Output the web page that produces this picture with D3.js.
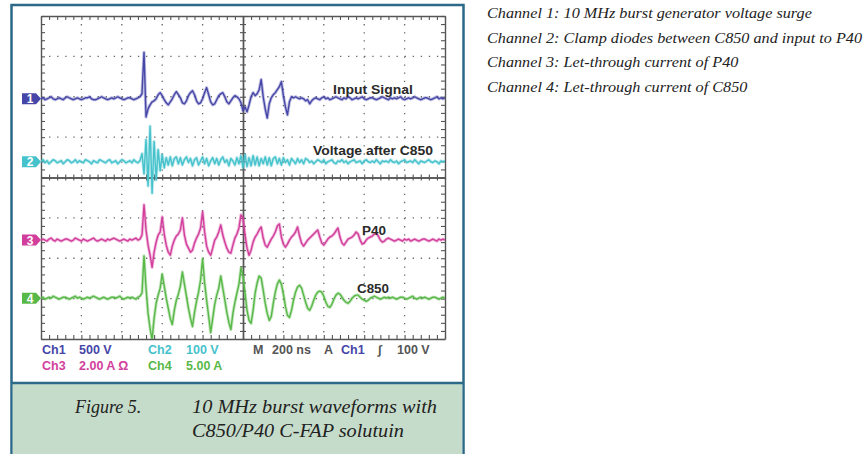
<!DOCTYPE html>
<html lang="en">
<head>
<meta charset="utf-8">
<title>10 MHz burst waveforms</title>
<script src="https://cdn.jsdelivr.net/npm/d3@7"></script>
<style>
  body { margin: 0; background: #fff; }
  svg text { font-family: "Liberation Sans", Arial, sans-serif; }
</style>
</head>
<body>
<script>
// scope settings
var timePerDiv = 200;      // ns
var timeStep = 10;         // ns between samples
var channelNames = ["Ch1", "Ch2", "Ch3", "Ch4"];
var channelScale = [500, 100, 2, 5];          // units per division
var channelUnits = ["V", "V", "A", "A"];
var channelOffset = [1.95, 0.39, -1.55, -2.99]; // marker level, divisions
var traceLabels = ["Input Signal", "Voltage after C850", "P40", "C850"];
var notes = [
  "Channel 1: 10 MHz burst generator voltage surge",
  "Channel 2: Clamp diodes between C850 and input to P40",
  "Channel 3: Let-through current of P40",
  "Channel 4: Let-through current of C850"
];

// Ch1 voltage (V), one sample every 10 ns
var ch1 = [0,12,-12,0,12,25,0,-12,0,12, 0,-12,12,25,12,0,-12,0,12,0, -12,0,12,12,25,0,-12,-12,0,12, 25,12,0,-12,0,12,0,12,25,12, 0,-12,0,12,12,0,-12,0,12,25,
  62,575,-225,-125,-75,-38,-25,0,50,75, 38,-12,-50,-75,-38,0,50,88,50,12, -50,-62,-25,38,75,100,50,-25,-62,-50,
  0,75,138,50,-38,-75,-62,-12,38,62, 75,25,-38,-62,-25,12,38,25,0,-50, -150,-100,-162,-75,25,75,38,62,112,238,
  25,-125,-238,-62,12,50,75,112,150,212, 38,-100,-200,-38,25,12,25,12,0,12, 0,-25,-12,-62,-25,0,
  12,0,-12,12,25,0,12,-12,0,12, 25,12,0,-12,12,0,25,12,-12,0, 12,0,12,25,0,-12,0,12,12,0, -12,0,12,25,12,0,-12,12,0,12,
  0,12,25,0,-12,0,12,0,12,25, 12,0,-12,0,12,12,0,-12,0,12, 25,0,12,0,12];

// Ch2 voltage (V)
var ch2 = [0,5,-2.5,2.5,-5,0,5,2.5,-2.5,0, 2.5,-5,0,5,2.5,-2.5,0,5,-2.5,2.5, 0,-2.5,5,2.5,0,-5,2.5,0,-2.5,5, 2.5,0,-2.5,2.5,5,-2.5,0,2.5,-5,0, 5,2.5,-2.5,0,2.5,-2.5,5,0,-2.5,2.5,
  20,-30,55,-60,88,-78,50,-45,30,-22, 18,-15,10,-8,12,-10,8,12,-5,10, -8,5,12,-2,8,-10,5,10,-8,2,
  12,-5,8,-10,2,10,-5,8,-8,5, 12,-2,5,-10,8,2,-8,10,-5,15, -15,18,-12,10,-10,15,-8,12,-10,8,
  -5,12,-8,10,-10,8,12,-5,8,-8, 10,-2,5,-8,8,2,-5,8,-2,5, -5,8,
  5,-2,2,-5,0,5,2,-2,5,-5, 0,2,5,-2,-5,2,0,5,-2,2, -5,0,2,5,-2,0,2,-5,2,5, 0,-2,2,-2,5,0,-5,2,0,2,
  -2,5,0,-2,2,-5,0,2,5,-2, 0,2,-2,5,0,-5,2,0,-2,2, 5,0,-2,2,0,-5,2,0,2];

// Ch3 current (A)
var ch3 = [0,0.05,0,-0.05,0.05,0.1,0,-0.05,0.05,0, -0.05,0,0.05,0.05,0,-0.05,0,0.1,0.05,0, -0.05,0.05,0,-0.05,0,0.05,0.1,0,-0.05,0, 0.05,0,-0.05,0.05,0,0.05,0.1,0.05,0,-0.05, 0,0.05,0,-0.05,0.05,0,0.05,0.1,0,0.05,
  0.25,1.75,0.5,-0.25,-0.75,-1.35,-0.6,-0.1,0.25,0.4, 1.15,0.3,-0.25,-0.6,-0.75,-0.3,0,0.2,0.3,0.5,
  1.1,0.25,-0.2,-0.4,-0.6,-0.5,-0.15,0.1,0.3,0.6, 1.4,0.4,-0.3,-0.6,-0.75,-0.4,0,0.15,0.4,0.75,
  0.25,-0.1,-0.4,-0.6,-0.65,-0.25,0.1,0.3,0.6,1.25, 1.1,0.25,-0.4,-0.75,-0.5,-0.1,0.15,0.3,0.5,0.65,
  0.1,-0.25,-0.35,-0.15,0.05,0.2,0.4,0.7,0.8,0.15, -0.2,-0.35,-0.2,0,0.15,0.25,0.4,0.65,0.2,-0.15,
  -0.3,-0.15,0,0.1,0.2,0.3,0.4,0.5,0.15,-0.15, -0.25,-0.1,0.05,0.15,0.2,0.3,0.45,0.6,0.15,-0.15,
  -0.25,-0.1,0.05,0.1,0.15,0.25,0.4,0.3,0,-0.2, -0.15,0,0.1,0.15,0.2,0.3,0.35,0.2,0,-0.1,
  -0.05,0.05,0.1,0.05,
  0,-0.05,0,0.05,0,-0.05,0.05,0,0.05,-0.05, 0,0.05,0,-0.05,0,0.05,0.05,0,-0.05,0, 0.05,0,-0.05,0.05,0,0.05,0];

// Ch4 current (A)
var ch4 = [0,0.12,-0.12,0,0.12,0,0.25,0.12,0,-0.12, 0,0.12,0.12,0,-0.12,0,0.12,0.25,0,0.12, 0,-0.12,0,0.12,0,0.12,0.25,0.12,0,-0.12, 0,0.12,0,-0.12,0,0.12,0.12,0,0.12,0.25, 0,-0.12,0,0.12,0,0.12,0,-0.12,0.12,0.25,
  0.62,5.25,1.25,-1.88,-3.75,-5.12,-2.5,-0.62,0.38,1.25, 3,1.5,0,-1.25,-2.5,-3.25,-1.5,-0.25,0.5,1.5,
  3.25,1.75,0.25,-1.25,-2.5,-3.5,-1.75,-0.38,0.75,2.25, 4.88,1.88,-0.25,-2.25,-4.25,-2.5,-0.75,0.38,1.25,2.75,
  1.25,-0.25,-1.75,-3,-3.88,-1.88,-0.5,0.62,1.75,3.75, 2.75,0.62,-1.5,-2.75,-3.12,-1.5,0.62,1.88,2.75,2.5,
  1,-0.62,-1.88,-2.75,-2.25,-0.62,0.75,1.75,2.25,1.75, 0.5,-1,-2.12,-2.38,-1.5,-0.25,0.75,1.38,1.62,1.25,
  0.38,-0.5,-1.25,-1.5,-1,-0.25,0.38,0.75,0.88,0.75, 0.25,-0.5,-1,-1.12,-0.75,-0.12,0.38,0.62,0.5,0.12,
  -0.25,-0.5,-0.62,-0.38,0,0.25,0.38,0.38,0.12,-0.12, -0.25,-0.38,-0.25,0,0.12,0.25,0.12,0,-0.12,0,
  0.12,0,0.12,0,
  0.12,0,-0.12,0,0.12,0.12,0,-0.12,0,0.12, 0.25,0,-0.12,0,0.12,0,0.12,0,-0.12,0, 0.12,0.12,0,-0.12,0,0.12,0];

var series = [ch1, ch2, ch3, ch4];
var colors = ["#4646a8", "#46c2cc", "#d23e9c", "#58b848"];

var W = 864, H = 454;
var gx0 = 41, gx1 = 445, gy0 = 16, gy1 = 339;

var svg = d3.select("body").append("svg").attr("width", W).attr("height", H);

// frame and caption panel
svg.append("rect").attr("x", 11.5).attr("y", 5).attr("width", 452).attr("height", 460)
  .attr("fill", "#fff").attr("stroke", "#2c6888").attr("stroke-width", 2.5);
svg.append("rect").attr("x", 12.75).attr("y", 383).attr("width", 449.5).attr("height", 80)
  .attr("fill", "#c6dcca");
svg.append("line").attr("x1", 11.5).attr("x2", 463.5).attr("y1", 383).attr("y2", 383)
  .attr("stroke", "#2c6888").attr("stroke-width", 2.5);

var x = d3.scaleLinear().domain([0, 10 * timePerDiv]).range([gx0, gx1]);
var y = d3.scaleLinear().domain([-4, 4]).range([gy1, gy0]);

// dotted graticule
var grid = svg.append("g").attr("stroke", "#666").attr("stroke-width", 1.3)
  .attr("stroke-dasharray", "1.3,6.78");
d3.range(1, 10).filter(function(k) { return k != 5; }).forEach(function(k) {
  grid.append("line").attr("x1", x(k * timePerDiv)).attr("x2", x(k * timePerDiv))
    .attr("y1", gy0 + 8.08).attr("y2", gy1);
});
d3.range(-3, 4).filter(function(k) { return k != 0; }).forEach(function(k) {
  grid.append("line").attr("y1", y(k)).attr("y2", y(k))
    .attr("x1", gx0 + 8.08).attr("x2", gx1);
});

// minor ticks via axes
var tx = d3.range(0, 2001, 40);
var ty = d3.range(-4, 4.01, 0.2);
function tickAxis(a, tr) {
  var g = svg.append("g").attr("transform", tr).call(a);
  g.selectAll("text").remove();
  g.selectAll("line").attr("stroke", "#555").attr("stroke-width", 1.1);
  g.select(".domain").attr("stroke", "#555").attr("stroke-width", 1.4);
  return g;
}
tickAxis(d3.axisBottom(x).tickValues(tx).tickSize(4).tickSizeOuter(0), "translate(0," + gy0 + ")");
tickAxis(d3.axisTop(x).tickValues(tx).tickSize(4).tickSizeOuter(0), "translate(0," + gy1 + ")");
tickAxis(d3.axisRight(y).tickValues(ty).tickSize(4).tickSizeOuter(0), "translate(" + gx0 + ",0)");
tickAxis(d3.axisLeft(y).tickValues(ty).tickSize(4).tickSizeOuter(0), "translate(" + gx1 + ",0)");
// centre cross
var cy = y(0), cx = x(5 * timePerDiv);
tickAxis(d3.axisBottom(x).tickValues(tx).tickSize(3).tickSizeOuter(0), "translate(0," + cy + ")");
tickAxis(d3.axisTop(x).tickValues(tx).tickSize(3).tickSizeOuter(0), "translate(0," + cy + ")");
tickAxis(d3.axisRight(y).tickValues(ty).tickSize(3).tickSizeOuter(0), "translate(" + cx + ",0)");
tickAxis(d3.axisLeft(y).tickValues(ty).tickSize(3).tickSizeOuter(0), "translate(" + cx + ",0)");

// traces
svg.append("clipPath").attr("id", "scr").append("rect")
  .attr("x", gx0).attr("y", gy0).attr("width", gx1 - gx0).attr("height", gy1 - gy0);
var traces = svg.append("g").attr("clip-path", "url(#scr)");
series.forEach(function(s, c) {
  var line = d3.line()
    .x(function(d, i) { return x(i * timeStep); })
    .y(function(d) { return y(channelOffset[c] + d / channelScale[c]); });
  traces.append("path").attr("d", line(s)).attr("fill", "none")
    .attr("stroke", colors[c]).attr("stroke-opacity", 0.35).attr("stroke-width", 3.2)
    .attr("stroke-linejoin", "round");
  traces.append("path").attr("d", line(s)).attr("fill", "none")
    .attr("stroke", colors[c]).attr("stroke-width", 1.4).attr("stroke-linejoin", "round");
});

// channel markers
channelOffset.forEach(function(o, c) {
  var yy = y(o);
  svg.append("path")
    .attr("d", "M22," + (yy - 5.5) + "H36L41," + yy + "L36," + (yy + 5.5) + "H22Z")
    .attr("fill", colors[c]);
  svg.append("text").attr("x", 30).attr("y", yy + 4.5).attr("text-anchor", "middle")
    .attr("font-size", 12).attr("font-weight", "bold").attr("fill", "#fff").text(c + 1);
});

// trace labels
var labelPos = [[333, 94, 80], [313, 155, 120], [362, 235, 24], [357, 293, 32]];
traceLabels.forEach(function(t, c) {
  svg.append("text").attr("x", labelPos[c][0]).attr("y", labelPos[c][1])
    .attr("textLength", labelPos[c][2]).attr("lengthAdjust", "spacingAndGlyphs")
    .attr("font-size", 13).attr("font-weight", "bold").attr("fill", "#2a2a2a").text(t);
});

// readout
var readout = [
  [42, 354, "Ch1", colors[0]], [79, 354, channelScale[0] + " " + channelUnits[0], colors[0]],
  [148, 354, "Ch2", colors[1]], [186, 354, channelScale[1] + " " + channelUnits[1], colors[1]],
  [42, 370, "Ch3", colors[2]], [79, 370, channelScale[2].toFixed(2) + " " + channelUnits[2] + " \u03a9", colors[2]],
  [148, 370, "Ch4", colors[3]], [186, 370, channelScale[3].toFixed(2) + " " + channelUnits[3], colors[3]],
  [253, 354, "M", "#555"], [272, 354, timePerDiv + " ns", "#555"], [324, 354, "A", "#555"],
  [341, 354, "Ch1", colors[0]], [378, 354, "\u222b", "#555"], [397, 354, "100 V", "#555"]
];
readout.forEach(function(r) {
  svg.append("text").attr("x", r[0]).attr("y", r[1]).attr("font-size", 12.5)
    .attr("font-weight", "bold").attr("fill", r[3]).text(r[2]);
});

// caption
function serif(xp, yp, t, size, len) {
  var e = svg.append("text").attr("x", xp).attr("y", yp)
    .style("font-family", "'Liberation Serif', 'Times New Roman', serif")
    .style("font-style", "italic").attr("font-size", size).attr("fill", "#222").text(t);
  if (len) e.attr("textLength", len).attr("lengthAdjust", "spacingAndGlyphs");
  return e;
}
serif(75, 413, "Figure 5.", 18);
serif(192, 413, "10 MHz burst waveforms with", 18, 245);
serif(192, 437, "C850/P40 C-FAP solutuin", 18, 212);

// side notes: widen all lines by the same factor so the longest one ends at 862
var noteEls = notes.map(function(t, i) { return serif(487, 18 + i * 24.7, t, 14.5); });
var widths = noteEls.map(function(e) { return e.node().getComputedTextLength(); });
var k = 375 / d3.max(widths);
noteEls.forEach(function(e, i) {
  e.attr("textLength", widths[i] * k).attr("lengthAdjust", "spacingAndGlyphs");
});
</script>
</body>
</html>
